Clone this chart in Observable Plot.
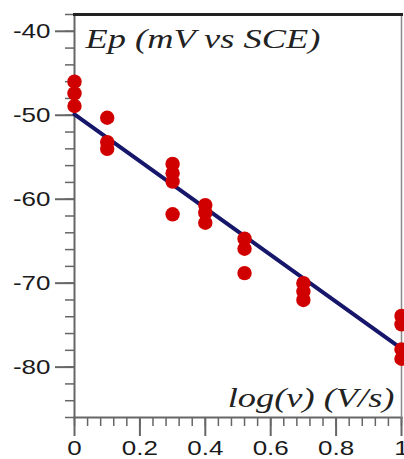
<!DOCTYPE html>
<html>
<head>
<meta charset="utf-8">
<script src="https://cdn.jsdelivr.net/npm/d3@7"></script>
<script src="https://cdn.jsdelivr.net/npm/@observablehq/plot@0.6"></script>
<style>
  html, body { margin: 0; padding: 0; background: #fff; }
  #chart svg { display: block; }
</style>
</head>
<body>
<div id="chart"></div>
<script>
// log(v) values (V/s) and measured Ep (mV vs SCE)
const logV = [0, 0, 0, 0.1, 0.1, 0.1, 0.3, 0.3, 0.3, 0.3, 0.4, 0.4, 0.4, 0.52, 0.52, 0.52, 0.7, 0.7, 0.7, 1, 1, 1, 1];
const ep   = [-46, -47.4, -48.9, -50.3, -53.2, -54, -55.8, -56.9, -57.9, -61.8, -60.7, -61.6, -62.8, -64.7, -65.9, -68.8, -70, -71, -72, -73.9, -74.9, -77.9, -79];
// linear fit endpoints
const fitX = [0, 1];
const fitY = [-49.9, -77.8];
const xMajor = [0, 0.2, 0.4, 0.6, 0.8, 1];
const xMinor = d3.range(0, 1.0001, 0.04);
const yMajor = [-40, -50, -60, -70, -80];
const yMinor = d3.range(-86, -37.9, 2);
const titleText = "Ep (mV vs SCE)";
const xLabelText = "log(v) (V/s)";

const points = logV.map((x, i) => ({x, y: ep[i]}));
const fit = fitX.map((x, i) => ({x, y: fitY[i]}));

const axisColor = "#666";
const serif = "'Liberation Serif', 'Times New Roman', serif";
const plot = Plot.plot({
  width: 404,
  height: 459,
  marginLeft: 74,
  marginTop: 14,
  marginRight: 3,
  marginBottom: 42,
  style: {fontFamily: "'Liberation Sans', Arial, sans-serif", background: "#fff", overflow: "hidden"},
  x: {domain: [0, 1]},
  y: {domain: [-86, -38]},
  marks: [
    Plot.axisX({ticks: xMinor, tickSize: 9, stroke: axisColor, strokeWidth: 1.5, text: null, label: null}),
    Plot.axisX({ticks: xMajor, tickSize: 19, tickPadding: 4, tickFormat: d => String(d), stroke: axisColor, strokeWidth: 2, fontSize: 20, fill: "#1a1a1a", label: null}),
    Plot.axisY({ticks: yMinor, tickSize: 9, stroke: axisColor, strokeWidth: 1.5, text: null, label: null}),
    Plot.axisY({ticks: yMajor, tickSize: 19, tickPadding: 5, tickFormat: d => String(d), stroke: axisColor, strokeWidth: 2, fontSize: 20, fill: "#1a1a1a", label: null}),
    Plot.frame({anchor: "left", stroke: axisColor, strokeWidth: 2}),
    Plot.frame({anchor: "bottom", stroke: axisColor, strokeWidth: 2}),
    Plot.frame({anchor: "right", stroke: "#888", strokeWidth: 1.5}),
    Plot.frame({anchor: "top", stroke: "#222", strokeWidth: 3}),
    Plot.line(fit, {x: "x", y: "y", stroke: "#16166b", strokeWidth: 4}),
    Plot.dot(points, {x: "x", y: "y", r: 7.2, fill: "#d10000", stroke: "none"}),
    Plot.text([titleText], {frameAnchor: "top-left", text: d => d, dx: 11, dy: 33, fontSize: 28, fontStyle: "italic", fontFamily: serif, fill: "#222", textAnchor: "start", lineAnchor: "bottom"}),
    Plot.text([xLabelText], {frameAnchor: "bottom-right", text: d => d, dx: -7, dy: -11, fontSize: 28, fontStyle: "italic", fontFamily: serif, fill: "#222", textAnchor: "end", lineAnchor: "bottom"})
  ]
});
// the reference's lettering is horizontally stretched: widen every text about its anchor
plot.querySelectorAll("text").forEach(t => {
  const tr = t.getAttribute("transform") || "";
  const xa = t.getAttribute("x");
  let extra = "";
  if (xa !== null && !isNaN(+xa)) { extra = ` translate(${+xa},0)`; t.removeAttribute("x"); }
  t.setAttribute("transform", `${tr}${extra} scale(1.3,1)`);
});
document.getElementById("chart").appendChild(plot);
</script>
</body>
</html>
